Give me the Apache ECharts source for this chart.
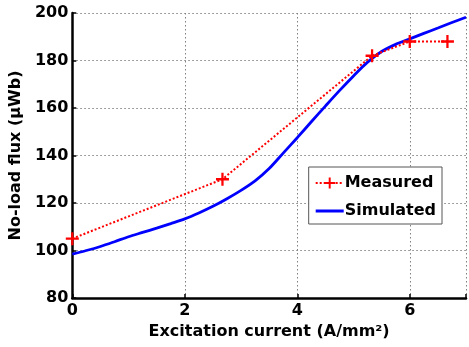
<!DOCTYPE html>
<html><head><meta charset="utf-8">
<script src="https://cdn.jsdelivr.net/npm/echarts@6/dist/echarts.min.js"></script>
<style>html,body{margin:0;padding:0;background:#fff}#c{width:469px;height:347px}</style>
</head><body><div id="c"></div>
<script>
const measuredX = [0, 2.67, 5.33, 6, 6.67];
const measuredY = [105, 130, 182, 188, 188];
const simX = [0, 0.25, 0.5, 0.75, 1, 1.25, 1.5, 1.75, 2, 2.25, 2.5, 2.75, 3, 3.25, 3.5, 3.75, 4, 4.25, 4.5, 4.75, 5, 5.25, 5.5, 5.75, 6, 6.25, 6.5, 6.75, 7];
const simY = [98.5, 100.0, 101.7, 103.7, 105.8, 107.6, 109.4, 111.3, 113.3, 115.8, 118.6, 121.8, 125.3, 129.3, 134.5, 141.0, 147.5, 154.2, 160.8, 167.3, 173.5, 179.3, 183.8, 186.8, 189.1, 191.4, 193.7, 196.0, 198.2];
const xTicks = [0, 2, 4, 6];
const yTicks = [80, 100, 120, 140, 160, 180, 200];

const font = 'DejaVu Sans';
const plus = 'path://M5.2,0H7.4V5.2H12.6V7.4H7.4V12.6H5.2V7.4H0V5.2H5.2Z';
const lineIcon = 'path://M0,0Z M0,5.6H28V8.4H0Z M28,14Z';
const chart = echarts.init(document.getElementById('c'), null, {renderer: 'canvas'});
chart.setOption({
  animation: false,
  grid: {left: 69.5, right: 0, top: 13, bottom: 49, containLabel: false},
  legend: {
    right: 27, top: 167,
    orient: 'vertical',
    backgroundColor: '#fff', borderColor: '#555', borderWidth: 1,
    padding: [8, 6, 5, 6], itemGap: 12, itemWidth: 28, itemHeight: 14,
    textStyle: {fontFamily: font, fontWeight: 'bold', fontSize: 16, color: '#000', padding: [0,0,0,-4]},
    data: [
      {name: 'Measured'},
      {name: 'Simulated', icon: lineIcon}
    ]
  },
  xAxis: {
    type: 'value', min: 0, max: 7, interval: 2,
    name: 'Excitation current (A/mm²)', nameLocation: 'middle', nameGap: 21,
    nameTextStyle: {fontFamily: font, fontWeight: 'bold', fontSize: 16, color: '#000'},
    axisLine: {onZero: false, lineStyle: {color: '#000', width: 2.5}},
    axisTick: {inside: true, length: 4, lineStyle: {color: '#000', width: 1.5}},
    axisLabel: {fontFamily: font, fontWeight: 'bold', fontSize: 16, color: '#000', margin: 5,
      formatter: v => xTicks.includes(v) ? String(v) : ''},
    splitLine: {show: true, lineStyle: {color: '#808080', type: [1.5, 2.5], width: 1}}
  },
  yAxis: {
    type: 'value', min: 80, max: 200, interval: 20,
    name: 'No-load flux (μWb)', nameLocation: 'middle', nameGap: 34,
    nameTextStyle: {fontFamily: font, fontWeight: 'bold', fontSize: 16, color: '#000'},
    axisLine: {lineStyle: {color: '#000', width: 2.5}},
    axisTick: {inside: true, length: 4, lineStyle: {color: '#000', width: 1.5}},
    axisLabel: {fontFamily: font, fontWeight: 'bold', fontSize: 16, color: '#000', margin: 4,
      formatter: v => yTicks.includes(v) ? String(v) : ''},
    splitLine: {show: true, lineStyle: {color: '#808080', type: [1.5, 2.5], width: 1}}
  },
  series: [
    {
      name: 'Measured', type: 'line',
      data: measuredX.map((x, i) => [x, measuredY[i]]),
      symbol: plus, symbolSize: 13,
      itemStyle: {color: '#ff0000'},
      lineStyle: {color: '#ff0000', type: [2, 2], width: 2},
      z: 3
    },
    {
      name: 'Simulated', type: 'line',
      data: simX.map((x, i) => [x, simY[i]]),
      smooth: 0.3, showSymbol: false, symbol: 'none',
      itemStyle: {color: '#0000ff'},
      lineStyle: {color: '#0000ff', width: 2.8},
      z: 2
    }
  ]
});
</script></body></html>
